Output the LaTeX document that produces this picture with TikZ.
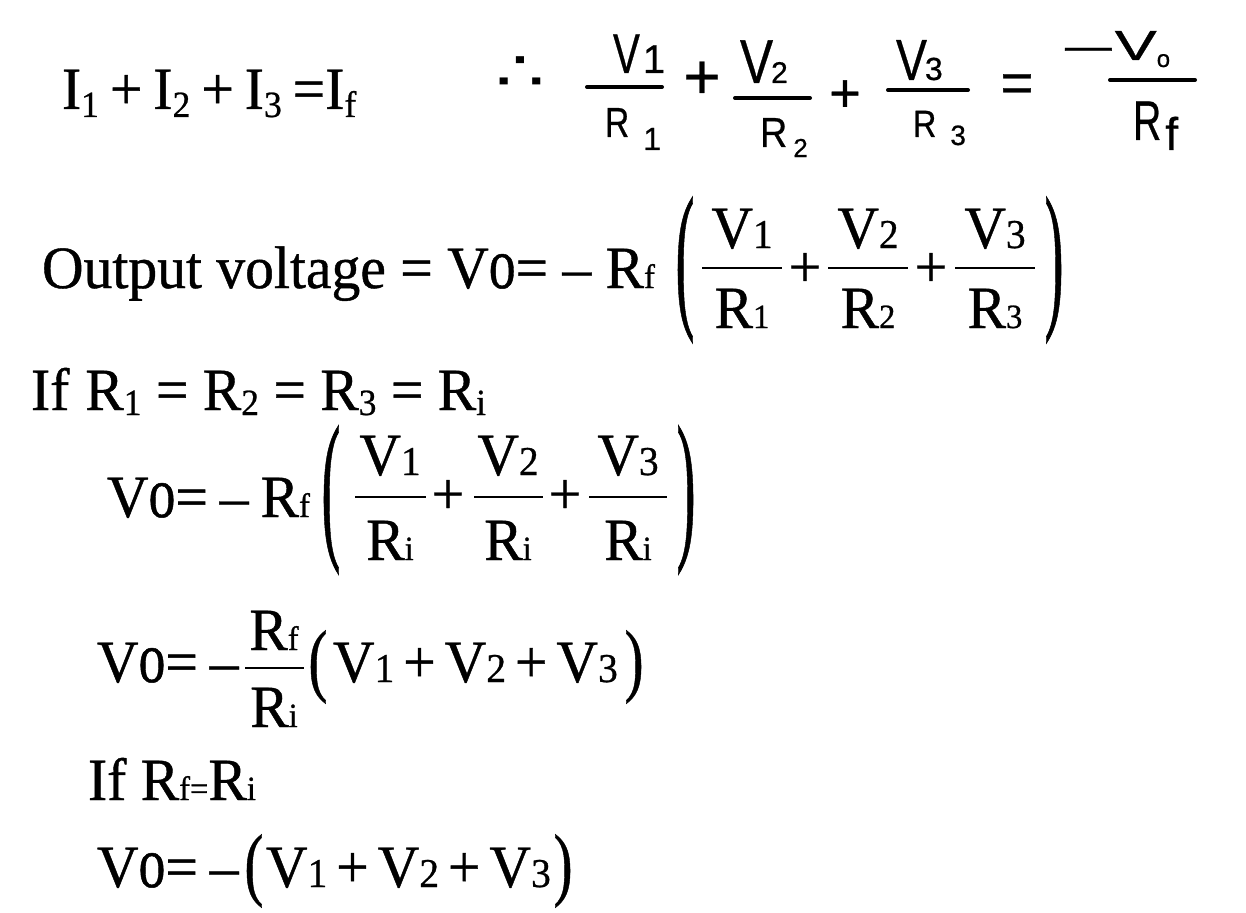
\documentclass[tikz,border=0pt]{standalone}
\usepackage{fontspec}
\newfontfamily\tm[FakeStretch=0.96,FakeBold=0.7]{Liberation Serif}
\newfontfamily\hw[FakeBold=0.6]{Liberation Sans}
\newfontfamily\dv{DejaVu Sans}
\newcommand\fs[1]{\fontsize{#1}{#1}\selectfont}
\newcommand\Vo{V\scalebox{0.93}[1.2]{o}}
\newcommand\lsb[2][-8pt]{\raisebox{#1}{\fs{37}#2}}
\newcommand\bsb[1]{{\fs{41}#1}}
\newcommand\ssb[1]{{\fs{34}#1}}
\newcommand\pl{\hspace{9pt}+\hspace{9pt}}
\begin{document}
\begin{tikzpicture}[x=1pt,y=-1pt,
  txt/.style={inner sep=0pt, outer sep=0pt, anchor=base west, font=\tm\fs{60}},
  ctr/.style={inner sep=0pt, outer sep=0pt, anchor=base, font=\tm\fs{60}},
  mid/.style={inner sep=0pt, outer sep=0pt, anchor=center, font=\tm\fs{60}},
  hand/.style={inner sep=0pt, outer sep=0pt, anchor=base west, font=\hw\fs{56}},
  hmid/.style={inner sep=0pt, outer sep=0pt, anchor=center, font=\hw\fs{56}},
  fbar/.style={line width=2.8pt},
  hbar/.style={line width=4pt, line cap=round}]
\fill[white] (0,0) rectangle (1246,912);
\useasboundingbox (0,0) rectangle (1246,912);

% line 1
\node[txt] (l1) at (62,109) {I\lsb{1}\hspace{11pt}+\hspace{11pt}I\lsb{2}\hspace{11pt}+\hspace{11pt}I\lsb{3}\hspace{11pt}=I\lsb{f}};

% handwritten equation
\node[mid, font=\dv\fs{56}] (therefore) at (520,74) {\scalebox{1.4}[1]{∴}};
\node[hand] (hv1) at (613,73) {\scalebox{0.72}[1]{V}\hspace{3pt}{\fs{40}1}};
\draw[hbar] (587,87) -- (662,87);
\node[hand, font=\hw\fs{42}] (hr1) at (605,137) {\scalebox{0.8}[1]{R}\hspace{14pt}\raisebox{-13pt}{\fs{32}1}};
\node[hmid, font=\hw\fs{64}] (hp1) at (702,80) {+};
\node[hand, font=\hw\fs{62}] (hv2) at (740,83) {\scalebox{0.8}[1]{V}\kern-2pt{\fs{30}2}};
\draw[hbar] (735,98) -- (810,98);
\node[hand, font=\hw\fs{42}] (hr2) at (760,147) {\scalebox{0.9}[1]{R}\hspace{6pt}\raisebox{-10pt}{\fs{26}2}};
\node[hmid, font=\hw\fs{54}] (hp2) at (845,96) {+};
\node[hand, font=\hw\fs{58}] (hv3) at (896,80) {\scalebox{0.8}[1]{V}\kern-2pt{\fs{32}3}};
\draw[hbar] (888,90) -- (968,90);
\node[hand, font=\hw\fs{38}] (hr3) at (913,137) {\scalebox{0.85}[1]{R}\hspace{14pt}\raisebox{-8pt}{\fs{28}3}};
\node[hmid, font=\hw\fs{56}] (heq) at (1017,88) {=};
\node[hand, font=\hw\fs{42}] (hvo) at (1065,60) {\scalebox{2}[1]{–}\hspace{3pt}\scalebox{1.5}[1]{V}\raisebox{-7pt}{\fs{24}o}};
\draw[hbar] (1110,80) -- (1195,80);
\node[hand, font=\hw\fs{56}] (hrf) at (1133,140) {\scalebox{0.7}[1]{R}\hspace{4pt}\raisebox{-10pt}{\fs{46}f}};

% line 2
\node[txt] (l2) at (42,288) {Output voltage = \Vo= – R\ssb{f}};
\node[mid] (l2po) at (685,270) {\scalebox{1}[2.7]{(}};
\node[ctr] (n21) at (742,248) {V\bsb{1}};
\draw[fbar] (702,268) -- (782,268);
\node[ctr] (d21) at (742,328) {R\ssb{1}};
\node[mid] (p21) at (805,270) {+};
\node[ctr] (n22) at (868,248) {V\bsb{2}};
\draw[fbar] (828,268) -- (908,268);
\node[ctr] (d22) at (868,328) {R\ssb{2}};
\node[mid] (p22) at (931,270) {+};
\node[ctr] (n23) at (995,248) {V\bsb{3}};
\draw[fbar] (955,268) -- (1035,268);
\node[ctr] (d23) at (995,328) {R\ssb{3}};
\node[mid] (l2pc) at (1054,270) {\scalebox{1}[2.7]{)}};

% line 3
\node[txt] (l3) at (31,410) {If\hspace{16pt}R\lsb[-5pt]{1} = R\lsb[-5pt]{2} = R\lsb[-5pt]{3} = R\lsb[-5pt]{i}};

% line 4
\node[txt] (l4) at (107,517) {\Vo=\hspace{12pt}–\hspace{12pt}R\ssb{f}};
\node[mid] (l4po) at (331,500) {\scalebox{1}[2.75]{(}};
\node[ctr] (n41) at (390,475) {V\bsb{1}};
\draw[fbar] (355,497) -- (426,497);
\node[ctr] (d41) at (390,560) {R\ssb{i}};
\node[mid] (p41) at (448,497) {+};
\node[ctr] (n42) at (508,475) {V\bsb{2}};
\draw[fbar] (474,497) -- (543,497);
\node[ctr] (d42) at (508,560) {R\ssb{i}};
\node[mid] (p42) at (565,497) {+};
\node[ctr] (n43) at (628,475) {V\bsb{3}};
\draw[fbar] (589,497) -- (667,497);
\node[ctr] (d43) at (628,560) {R\ssb{i}};
\node[mid] (l4pc) at (686,500) {\scalebox{1}[2.75]{)}};

% line 5
\node[txt] (l5) at (97,682) {\Vo=\hspace{12pt}–};
\node[ctr] (n5) at (274,650) {R\ssb{f}};
\draw[fbar] (245,668) -- (304,668);
\node[ctr] (d5) at (274,727) {R\ssb{i}};
\node[mid] (l5po) at (318,667) {\scalebox{1}[1.35]{(}};
\node[txt] (l5s) at (333,682) {V\bsb{1}\pl V\bsb{2}\pl V\bsb{3}};
\node[mid] (l5pc) at (634,667) {\scalebox{1}[1.35]{)}};

% line 6
\node[txt] (l6) at (88,800) {If R\ssb{f}\ssb{=}R\ssb{i}};

% line 7
\node[txt] (l7) at (97,887) {\Vo=\hspace{12pt}–};
\node[mid] (l7po) at (254,871) {\scalebox{1}[1.35]{(}};
\node[txt] (l7s) at (266,887) {V\bsb{1}\pl V\bsb{2}\pl V\bsb{3}};
\node[mid] (l7pc) at (563,871) {\scalebox{1}[1.35]{)}};
\end{tikzpicture}
\end{document}
